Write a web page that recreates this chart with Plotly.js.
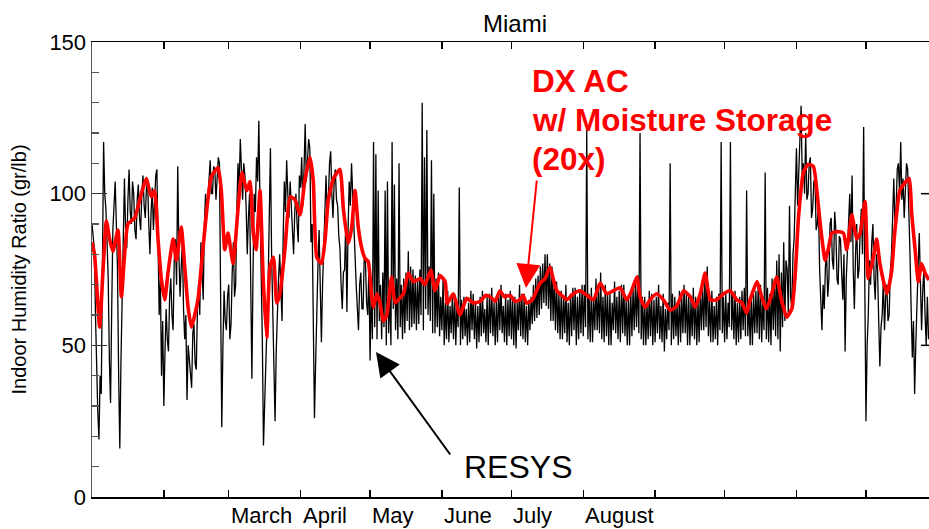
<!DOCTYPE html>
<html><head><meta charset="utf-8">
<script src="https://cdn.plot.ly/plotly-3.0.1.min.js"></script>
<style>html,body{margin:0;padding:0;background:#fff}#chart{width:929px;height:529px}</style>
</head><body><div id="chart"></div>
<script>
// RESYS indoor humidity ratio (gr/lb), one reading every half day starting Jan 1 (row = 5 days)
const resysHumidity = [
 90,86, 82,60, 40,28, 19,40, 34,80,
 117,100, 95,84, 72,45, 31,62, 88,96,
 104,90, 75,40, 16,45, 66,92, 105,88,
 82,98, 108,94, 90,104, 100,88, 85,98,
 103,92, 88,100, 106,96, 92,102, 104,90,
 80,94, 102,88, 96,106, 108,82, 60,72,
 40,58, 30,48, 62,52, 48,66, 72,60,
 55,78, 85,70, 109,80, 66,76, 84,62,
 52,60, 32,50, 45,38, 36,54, 57,44,
 42,62, 70,60, 84,74, 65,90, 100,92,
 98,106, 111,100, 100,109, 108,98, 104,112,
 110,70, 23,50, 68,58, 55,66, 70,52,
 57,74, 84,66, 70,95, 110,102, 118,108,
 98,110, 106,96, 80,92, 100,70, 39,75,
 100,94, 112,104, 124,96, 75,52, 17,30,
 42,55, 70,92, 115,80, 58,40, 25,48,
 62,72, 80,64, 58,86, 104,94, 111,100,
 92,104, 96,88, 80,94, 100,90, 84,106,
 102,112, 96,108, 123,104, 110,118, 115,84,
 90,50, 26,44, 63,76, 88,66, 51,70,
 85,96, 106,94, 98,110, 114,100, 92,104,
 108,98, 96,86, 82,70, 62,74, 75,90,
 61,88, 104,96, 110,100, 92,80, 70,60,
 55,70, 74,62, 62,80, 78,64, 60,76,
 45,70, 52,117, 56,113, 52,101, 58,70,
 52,74, 56,101, 50,104, 54,68, 50,117,
 62,103, 55,72, 52,110, 56,70, 52,72,
 54,74, 58,81, 55,76, 56,75, 57,73,
 55,72, 57,75, 60,130, 55,112, 62,121,
 60,76, 58,111, 54,100, 54,72, 56,74,
 53,66, 55,72, 50,64, 52,68, 51,63,
 54,66, 52,67, 50,64, 56,102, 50,65,
 52,66, 53,62, 50,64, 51,68, 55,67,
 52,64, 49,63, 51,66, 53,68, 54,62,
 51,66, 50,67, 54,69, 53,64, 50,65,
 51,68, 55,70, 54,63, 51,67, 50,65,
 53,68, 52,66, 50,66, 49,64, 55,70,
 53,67, 52,67, 51,63, 50,65, 55,66,
 57,70, 58,72, 59,73, 60,76, 62,77,
 64,80, 63,80, 62,77, 58,76, 58,72,
 55,71, 54,67, 52,68, 52,66, 54,70,
 51,64, 50,67, 53,69, 55,69, 50,66,
 52,68, 54,70, 53,70, 56,121, 52,67,
 51,69, 51,65, 55,72, 55,68, 54,74,
 52,66, 51,70, 53,67, 50,67, 50,64,
 55,71, 54,66, 52,68, 51,70, 54,70,
 53,65, 50,66, 50,68, 53,69, 55,71,
 56,73, 54,120, 52,66, 50,66, 50,64,
 52,68, 53,67, 50,65, 51,66, 54,70,
 52,63, 51,67, 48,62, 52,64, 55,110,
 50,67, 52,66, 53,64, 50,68, 51,66,
 54,70, 54,67, 50,67, 50,65, 53,69,
 52,66, 50,65, 51,68, 55,70, 55,72,
 56,76, 53,65, 51,68, 51,63, 52,66,
 50,67, 55,117, 54,66, 51,67, 52,64,
 56,117, 55,67, 52,68, 50,64, 51,66,
 52,68, 55,69, 53,101, 53,65, 50,66,
 50,67, 54,68, 54,70, 52,70, 51,66,
 55,107, 52,69, 51,67, 50,72, 55,72,
 53,78, 52,80, 48,74, 56,84, 58,78,
 75,60, 96,66, 62,80, 85,100, 115,96,
 105,118, 129,104, 110,100, 120,98, 100,110,
 112,92, 95,104, 105,88, 90,96, 75,62,
 55,70, 62,76, 80,66, 72,90, 92,78,
 75,94, 88,72, 70,86, 85,74, 65,80,
 48,72, 80,92, 100,84, 106,75, 62,80,
 90,72, 75,88, 95,80, 122,70, 25,50,
 60,78, 70,84, 90,72, 65,80, 75,58,
 43,56, 60,72, 55,66, 70,58, 60,74,
 80,92, 105,90, 95,108, 110,100, 117,98,
 105,92, 100,110, 108,96, 80,62, 46,58,
 34,50, 60,76, 87,70, 55,68, 75,60,
 50,66, 52
];

// DX AC with moisture storage (20x): day of year and humidity ratio
const storageDays = [
 0, 1.1, 3.3, 4.7, 6.2, 7.6, 9, 11.2, 12.7, 15.5, 18.4, 21.3, 23.4, 25.6, 27, 28.5, 29.9, 31.4, 32.8, 35,
 36.4, 38.5, 40, 41.4, 42.9, 45.7, 47.9, 50, 51.5, 54.4, 55.8, 57.3, 58.7, 60.9, 63, 64.7, 66.8, 68.2, 69.6, 70.8,
 72.5, 73.9, 75.4, 76.8, 78.3, 79.7, 81.1, 83.3, 85.5, 87.6, 89.8, 91.9, 94.1, 95.5, 97, 99.1, 100.6, 102, 104.2, 107,
 108.5, 110.6, 112.1, 113.5, 114.9, 116.4, 117.8, 119.2, 120.7, 121.4, 122.9, 124.3, 125.7, 127.2, 129.3, 130.8, 132.2, 134.4, 136.5, 138.7,
 141.6, 143.7, 146.2, 148, 150.2, 152.4, 153.3, 155.9, 158.8, 161.7, 164.6, 167.5, 170, 171.8, 174, 176, 178, 180.4, 182.5, 184.7,
 186, 187.6, 190, 193.4, 195.5, 197.7, 199, 200.6, 203.4, 204.9, 207.7, 210.6, 213.5, 216.4, 219.3, 222.1, 225, 227.9, 230.8, 232.9,
 235.1, 236.5, 238.7, 240.8, 243.7, 246.6, 249.5, 252.4, 255.3, 258.2, 260.3, 262.5, 264.6, 266.8, 269.6, 272.5, 275.4, 278.3, 280.5, 282.5,
 284, 287, 289, 291, 293, 295.5, 297.5, 299.8, 302, 303.4, 304.9, 307, 309, 311.3, 312.8, 314.2, 316.4, 317.8, 319.3, 322,
 324.3, 325.7, 327.9, 330, 331.5, 333.6, 335, 337.2, 338.6, 340, 343, 345, 346.4, 348.6, 350.8, 352.7, 353.7, 355.2, 356.6, 358,
 359.4, 361.2
];
const storageHumidity = [
 84, 80, 56, 74, 91, 85, 81, 88, 66, 90, 92, 100, 105, 99, 101, 85, 72, 65, 74, 85,
 78, 89, 76, 63, 56, 65, 82, 98, 105.6, 108.6, 101, 81.5, 87, 77, 95, 107, 101, 104, 87, 81.5,
 101, 71.5, 52.6, 76, 79, 64, 67, 82, 99, 98, 93, 104.6, 112, 104, 79, 77, 85, 98, 105, 108,
 94.7, 83.7, 89, 101, 89, 82, 78.7, 77.6, 66, 62.6, 67, 64, 58, 60, 72.5, 64, 65, 67, 73.8, 71,
 72, 70, 74.8, 68, 73, 71, 63.8, 67, 60, 65.5, 64, 64.5, 66.5, 66, 64.5, 68, 66, 66.5, 64.5, 65,
 66.5, 63.9, 65, 70.5, 72, 75.8, 72, 68, 66, 65, 67, 68, 66.5, 65, 70.5, 67, 68, 69, 65, 68,
 72.5, 66, 62.6, 65, 67, 65, 61.6, 63, 68, 66, 62.6, 67, 73.8, 65, 65, 67, 68, 65, 64, 60.6,
 65, 71, 66, 62, 66, 72.5, 65, 59.3, 62, 72.5, 92.4, 107, 109.6, 109, 101, 90.4, 78, 82, 87, 87.5,
 87, 81.5, 93, 85, 87, 97.4, 72, 79, 85, 77, 67, 74, 87, 101, 103.6, 105, 93.7, 81.5, 71, 77,
 74, 71.5
];

const monthStartDays = [0, 31, 59, 90, 120, 151, 181, 212, 243, 273, 304, 334];
const labeledMonthDays = [59, 90, 120, 151, 181, 212];
const labeledMonthNames = ['March', 'April', 'May', 'June', 'July', 'August'];
const yTickValues = [0, 50, 100, 150];
const yTickLabels = ['0', '50', '100', '150'];

const FONT = 'Liberation Sans, Arial, Helvetica, sans-serif';
const L = 92, T = 42, W = 837, H = 455;
const px2x = p => (p - L) / W;
const py2y = p => (T + H - p) / H;

const traces = [
  {
    type: 'scatter', mode: 'lines', name: 'RESYS',
    x0: 0, dx: 0.5, y: resysHumidity,
    line: {color: '#000000', width: 1.3},
    hoverinfo: 'skip'
  },
  {
    type: 'scatter', mode: 'lines', name: 'DX AC w/ Moisture Storage (20x)',
    x: storageDays, y: storageHumidity,
    line: {color: '#ff0000', width: 3.6, shape: 'spline', smoothing: 0.5},
    hoverinfo: 'skip'
  }
];

const annotations = labeledMonthNames.map((name, i) => ({
  x: labeledMonthDays[i], xref: 'x', xanchor: 'left',
  y: py2y(515), yref: 'paper', yanchor: 'middle',
  text: name, showarrow: false,
  font: {family: FONT, size: 22, color: '#000'}
}));

annotations.push(
  {x: px2x(517.5), y: py2y(466.5), xref: 'paper', yref: 'paper', xanchor: 'center', yanchor: 'middle',
   text: 'RESYS', showarrow: false, font: {family: FONT, size: 32, color: '#000'}},
  {x: px2x(530), y: py2y(81.4), xref: 'paper', yref: 'paper', xanchor: 'left', yanchor: 'middle',
   text: '<b>DX AC</b>', showarrow: false, font: {family: FONT, size: 31.5, color: '#ff0000'}},
  {x: px2x(530), y: py2y(120), xref: 'paper', yref: 'paper', xanchor: 'left', yanchor: 'middle',
   text: '<b>w/ Moisture Storage</b>', showarrow: false, font: {family: FONT, size: 31.5, color: '#ff0000'}},
  {x: px2x(530), y: py2y(159), xref: 'paper', yref: 'paper', xanchor: 'left', yanchor: 'middle',
   text: '<b>(20x)</b>', showarrow: false, font: {family: FONT, size: 31.5, color: '#ff0000'}},
  {x: px2x(376), y: py2y(352), xref: 'paper', yref: 'paper', text: ' ', showarrow: true,
   ax: 76, ay: 105, arrowhead: 2, arrowsize: 2.4, arrowwidth: 2, arrowcolor: '#000', standoff: 0,
   font: {size: 2}},
  {x: px2x(526), y: py2y(288), xref: 'paper', yref: 'paper', text: ' ', showarrow: true,
   ax: 11, ay: -110, arrowhead: 2, arrowsize: 2.4, arrowwidth: 2, arrowcolor: '#ff0000', standoff: 0,
   font: {size: 2}}
);

const shapes = [50, 100].map(v => ({
  type: 'line', xref: 'paper', yref: 'y', x0: px2x(921), x1: 1, y0: v, y1: v,
  line: {color: '#000', width: 1.5}
}));

const layout = {
  width: 929, height: 529,
  margin: {l: L, r: 929 - L - W, t: T, b: 529 - T - H, pad: 0},
  paper_bgcolor: '#ffffff', plot_bgcolor: '#ffffff',
  showlegend: false,
  font: {family: FONT, color: '#000'},
  title: {
    text: 'Miami', font: {family: FONT, size: 24, color: '#000'},
    x: 515 / 929, xref: 'container', xanchor: 'center',
    y: 1 - 23.7 / 529, yref: 'container', yanchor: 'middle'
  },
  xaxis: {
    range: [0, 361.2], tickmode: 'array', tickvals: monthStartDays, showticklabels: false,
    ticks: 'inside', ticklen: 7, tickwidth: 1.5, tickcolor: '#000',
    showline: true, linecolor: '#000', linewidth: 1.5, mirror: 'ticks',
    showgrid: false, zeroline: false, fixedrange: true
  },
  yaxis: {
    range: [0, 150], tickmode: 'array', tickvals: yTickValues, ticktext: yTickLabels,
    ticks: 'inside', ticklen: 15, tickwidth: 1.5, tickcolor: '#333',
    minor: {tickmode: 'linear', tick0: 0, dtick: 10, ticks: 'inside', ticklen: 7, tickwidth: 1.5, tickcolor: '#555', showgrid: false},
    tickfont: {family: FONT, size: 22, color: '#000'},
    showline: true, linecolor: '#555', linewidth: 1.5, mirror: false,
    showgrid: false, zeroline: false, fixedrange: true,
    title: {text: 'Indoor Humidity Ratio (gr/lb)', font: {family: FONT, size: 20, color: '#000'}, standoff: 17}
  },
  annotations: annotations,
  shapes: shapes
};

Plotly.newPlot('chart', traces, layout, {displayModeBar: false, staticPlot: true});
</script>
</body></html>
